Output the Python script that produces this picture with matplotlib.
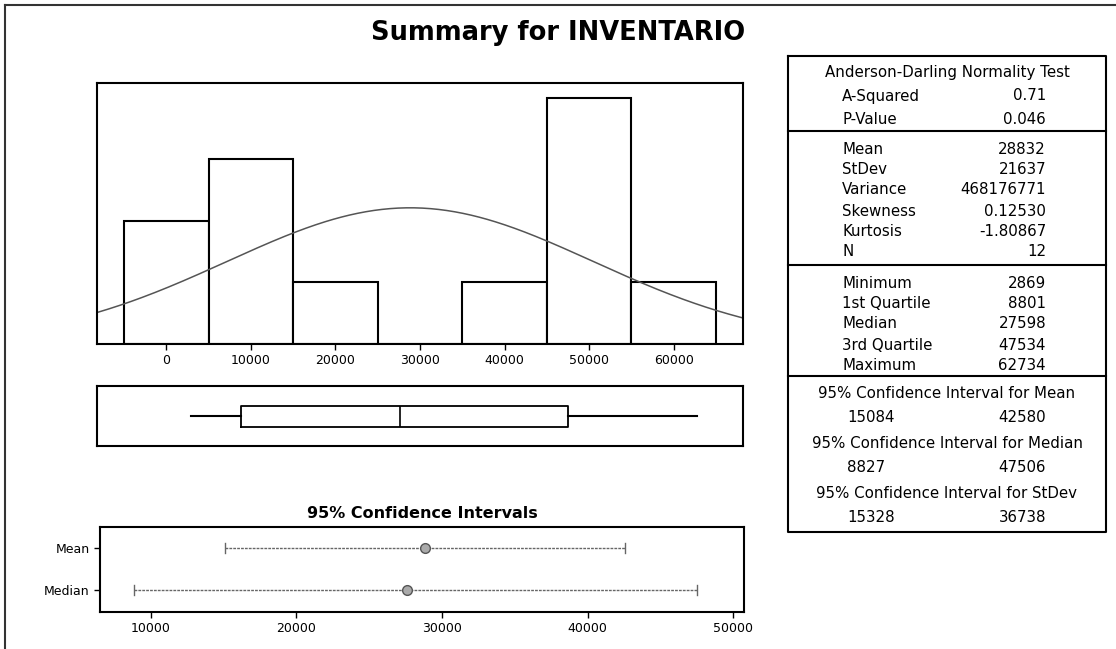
import matplotlib
matplotlib.use('Agg')
import matplotlib.pyplot as plt
import numpy as np

# histogram (bin centres and counts)
bin_centers = [0, 10000, 20000, 30000, 40000, 50000, 60000]
bin_counts = [2, 3, 1, 0, 1, 4, 1]
bin_width = 10000

# summary statistics
n_obs = 12
mean_val = 28832
stdev_val = 21637
minimum, q1, median_val, q3, maximum = 2869, 8801, 27598, 47534, 62734
mean_ci = (15084, 42580)
median_ci = (8827, 47506)
stdev_ci = (15328, 36738)

# table texts
ad_labels = ['A-Squared', 'P-Value']
ad_values = ['0.71', '0.046']
desc_labels = ['Mean', 'StDev', 'Variance', 'Skewness', 'Kurtosis', 'N']
desc_values = ['28832', '21637', '468176771', '0.12530', '-1.80867', '12']
quart_labels = ['Minimum', '1st Quartile', 'Median', '3rd Quartile', 'Maximum']
quart_values = ['2869', '8801', '27598', '47534', '62734']
ci_titles = ['95% Confidence Interval for Mean',
             '95% Confidence Interval for Median',
             '95% Confidence Interval for StDev']
ci_bounds = [mean_ci, median_ci, stdev_ci]

W, H = 1116, 649
fig = plt.figure(figsize=(W / 100, H / 100), dpi=100)
fig.patch.set_facecolor('white')


def px_axes(l, t, r, b):
    return fig.add_axes([l / W, 1 - b / H, (r - l) / W, (b - t) / H])


# background overlay in pixel coordinates for frame/table/title
bg = fig.add_axes([0, 0, 1, 1], zorder=-1)
bg.set_xlim(0, W)
bg.set_ylim(H, 0)
bg.axis('off')

bg.plot([5, 5], [5, H], color='#333333', lw=1.5)
bg.plot([5, W], [5, 5], color='#333333', lw=1.5)
bg.text(558, 33, 'Summary for INVENTARIO', ha='center', va='center',
        fontsize=18.5, fontweight='bold')

# --- histogram ---
ax = px_axes(97, 83, 743, 344)
ax.bar(bin_centers, bin_counts, width=bin_width, color='white',
       edgecolor='black', linewidth=1.5)
xs = np.linspace(-8200, 68200, 400)
pdf = np.exp(-0.5 * ((xs - mean_val) / stdev_val) ** 2) / (stdev_val * np.sqrt(2 * np.pi))
ax.plot(xs, pdf * n_obs * bin_width, color='#555555', lw=1.1)
ax.set_xlim(-8200, 68200)
ax.set_ylim(0, 4.24)
ax.set_yticks([])
ax.set_xticks(range(0, 60001, 10000))
ax.tick_params(axis='x', labelsize=9, length=4, width=1)
for s in ax.spines.values():
    s.set_linewidth(1.5)

# --- boxplot ---
axb = px_axes(97, 386, 743, 446)
stats = [dict(whislo=minimum, q1=q1, med=median_val, q3=q3, whishi=maximum, fliers=[])]
axb.bxp(stats, positions=[0.5], widths=0.35, vert=False, showcaps=False,
        boxprops=dict(color='black', lw=1.3),
        whiskerprops=dict(color='black', lw=1.5),
        medianprops=dict(color='black', lw=1.2))
axb.set_xlim(-8200, 68200)
axb.set_ylim(0, 1)
axb.set_xticks([])
axb.set_yticks([])
for s in axb.spines.values():
    s.set_linewidth(1.5)

# --- confidence intervals ---
axc = px_axes(100, 527, 744, 612)
ci_rows = [2, 1]
ci_names = ['Mean', 'Median']
ci_pts = [mean_val, median_val]
for y, (lo, hi), pt in zip(ci_rows, [mean_ci, median_ci], ci_pts):
    axc.plot([lo, hi], [y, y], color='#666666', lw=1.0, ls=(0, (2, 0.8)))
    axc.plot([lo, lo], [y - 0.12, y + 0.12], color='#666666', lw=1.0)
    axc.plot([hi, hi], [y - 0.12, y + 0.12], color='#666666', lw=1.0)
    axc.plot([pt], [y], marker='o', ms=7, mfc='#aaaaaa', mec='#555555', mew=1.0)
axc.set_xlim(6500, 50750)
axc.set_ylim(0.48, 2.5)
axc.set_yticks(ci_rows)
axc.set_yticklabels(ci_names)
axc.set_xticks(range(10000, 50001, 10000))
axc.tick_params(labelsize=9, length=4, width=1)
for s in axc.spines.values():
    s.set_linewidth(1.5)
bg.text(422, 513, '95% Confidence Intervals', ha='center', va='center',
        fontsize=11.5, fontweight='bold')

# --- stats table ---
tl, tr, tt, tb = 788, 1106, 56, 532
bg.plot([tl, tr, tr, tl, tl], [tt, tt, tb, tb, tt], color='black', lw=1.5)
for y in [131, 265, 376]:
    bg.plot([tl, tr], [y, y], color='black', lw=1.5)

fs = 10.8
lab_x, val_x, cx = 842, 1046, (tl + tr) / 2
bg.text(cx, 73, 'Anderson-Darling Normality Test', ha='center', va='center', fontsize=fs)
for lab, val, y in zip(ad_labels, ad_values, [96, 119]):
    bg.text(lab_x, y, lab, ha='left', va='center', fontsize=fs)
    bg.text(val_x, y, val, ha='right', va='center', fontsize=fs)
for lab, val, y in zip(desc_labels, desc_values, [149, 169, 190, 211, 232, 252]):
    bg.text(lab_x, y, lab, ha='left', va='center', fontsize=fs)
    bg.text(val_x, y, val, ha='right', va='center', fontsize=fs)
for lab, val, y in zip(quart_labels, quart_values, [283, 303, 324, 345, 366]):
    bg.text(lab_x, y, lab, ha='left', va='center', fontsize=fs)
    bg.text(val_x, y, val, ha='right', va='center', fontsize=fs)
for title, (lo, hi), y in zip(ci_titles, ci_bounds, [393, 443, 493]):
    bg.text(cx, y, title, ha='center', va='center', fontsize=fs)
    bg.text(847, y + 25, str(lo), ha='left', va='center', fontsize=fs)
    bg.text(val_x, y + 25, str(hi), ha='right', va='center', fontsize=fs)

fig.savefig('out.png', dpi=100)
